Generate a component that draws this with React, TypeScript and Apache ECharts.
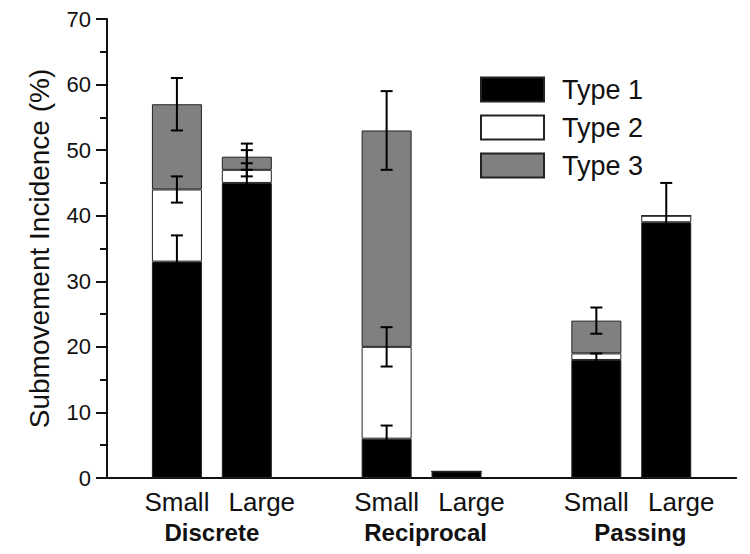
import React, { useEffect, useRef } from "react";
import * as echarts from "echarts";

const groups = ["Discrete", "Reciprocal", "Passing"];
const sizes = ["Small", "Large"];
const seriesNames = ["Type 1", "Type 2", "Type 3"];
// segment heights (stacked), order: Discrete S/L, Reciprocal S/L, Passing S/L
const type1 = [33, 45, 6, 1, 18, 39];
const type2 = [11, 2, 14, 0, 1, 1];
const type3 = [13, 2, 33, 0, 5, 0];
// error half-lengths at the top of each segment
const err1 = [4, 5, 2, 0, 1, 0];
const err2 = [2, 1, 3, 0, 0, 5];
const err3 = [4, 2, 6, 0, 2, 0];
const yTicks = { min: 0, max: 70, interval: 10 };

const colors = ["#000000", "#ffffff", "#808080"];
const FONT = "Liberation Sans, Arial, Helvetica, sans-serif";

export default function App() {
  const ref = useRef<HTMLDivElement>(null);
  useEffect(() => {
    if (!ref.current) return;
    const chart = echarts.init(ref.current, undefined, { renderer: "svg" });
    // category slots: gap, S, L, gap, S, L, gap, S, L, gap
    const cats: string[] = [""];
    const slotOf: number[] = [];
    groups.forEach((_, g) => {
      sizes.forEach((s) => {
        slotOf.push(cats.length);
        cats.push(s);
      });
      cats.push(" ".repeat(g + 1));
    });
    const nSlots = cats.length;
    const fill = (vals: number[]) => {
      const arr: (number | null)[] = new Array(nSlots).fill(null);
      vals.forEach((v, i) => (arr[slotOf[i]] = v));
      return arr;
    };
    const segs = [type1, type2, type3];
    const errs = [err1, err2, err3];
    const errData: number[][] = [];
    slotOf.forEach((slot, i) => {
      let top = 0;
      segs.forEach((seg, k) => {
        top += seg[i];
        if (errs[k][i] > 0) errData.push([slot, top, errs[k][i]]);
      });
    });
    const groupPos = groups.map((_, g) => (slotOf[g * 2] + slotOf[g * 2 + 1]) / 2);
    const groupMap: Record<string, number> = {};
    groupPos.forEach((p, g) => (groupMap[String(p)] = g));
    const groupShift = [0, 8, 18];
    const groupRich: Record<string, any> = {};
    groupShift.forEach((s, g) => {
      groupRich["g" + g] = {
        fontSize: 24,
        fontWeight: "bold",
        color: "#111",
        fontFamily: FONT,
        padding: [0, 0, 0, s],
      };
    });

    chart.setOption({
      animation: false,
      textStyle: { fontFamily: FONT },
      grid: { left: 107, right: 10, top: 19, bottom: 76, containLabel: false },
      legend: {
        orient: "vertical",
        left: 480,
        top: 76,
        padding: 0,
        icon: "rect",
        itemWidth: 63,
        itemHeight: 24,
        itemGap: 11,
        data: seriesNames,
        textStyle: {
          fontSize: 27,
          lineHeight: 24,
          color: "#111",
          fontFamily: FONT,
          padding: [0, 0, 0, 13],
        },
      },
      xAxis: [
        {
          type: "category",
          data: cats,
          boundaryGap: false,
          position: "bottom",
          axisLine: { show: true, lineStyle: { color: "#111", width: 2 } },
          axisTick: { show: false },
          splitLine: { show: false },
          axisLabel: {
            interval: 0,
            fontSize: 26,
            color: "#111",
            margin: 11,
            fontFamily: FONT,
            formatter: (v: string) => (v === sizes[1] ? `{l|${v}}` : v),
            rich: {
              l: { fontSize: 26, color: "#111", fontFamily: FONT, padding: [0, 0, 0, 30] },
            },
          },
        },
        {
          type: "value",
          min: 0,
          max: nSlots - 1,
          position: "bottom",
          axisLine: { show: false },
          axisTick: { show: false },
          splitLine: { show: false },
          axisLabel: {
            customValues: groupPos,
            formatter: (v: number) => {
              const g = groupMap[String(v)];
              return g === undefined ? "" : `{g${g}|${groups[g]}}`;
            },
            rich: groupRich,
            fontSize: 24,
            fontWeight: "bold",
            color: "#111",
            margin: 42,
            fontFamily: FONT,
          },
        },
      ],
      yAxis: {
        type: "value",
        min: yTicks.min,
        max: yTicks.max,
        interval: yTicks.interval,
        name: "Submovement Incidence (%)",
        nameLocation: "middle",
        nameGap: 54,
        nameTextStyle: { fontSize: 28, color: "#111", fontFamily: FONT },
        axisLine: { show: true, lineStyle: { color: "#111", width: 2 } },
        axisTick: { show: true, inside: false, length: 11, lineStyle: { color: "#111", width: 2 } },
        minorTick: { show: true, splitNumber: 2, length: 7, lineStyle: { color: "#111", width: 2 } },
        splitLine: { show: false },
        axisLabel: { fontSize: 22, color: "#111", margin: 16, fontFamily: FONT },
      },
      series: [
        ...segs.map((seg, k) => ({
          name: seriesNames[k],
          type: "bar",
          stack: "total",
          barWidth: 50,
          xAxisIndex: 0,
          itemStyle: { color: colors[k], borderColor: "#222", borderWidth: 1 },
          data: fill(seg),
        })),
        {
          type: "custom",
          xAxisIndex: 0,
          z: 10,
          data: errData,
          renderItem: (params: any, api: any) => {
            const x = api.value(0);
            const top = api.value(1);
            const e = api.value(2);
            const hi = api.coord([x, top + e]);
            const lo = api.coord([x, top - e]);
            const w = 6;
            const style = { stroke: "#000", lineWidth: 2 };
            return {
              type: "group",
              children: [
                { type: "line", shape: { x1: hi[0], y1: hi[1], x2: lo[0], y2: lo[1] }, style },
                { type: "line", shape: { x1: hi[0] - w, y1: hi[1], x2: hi[0] + w, y2: hi[1] }, style },
                { type: "line", shape: { x1: lo[0] - w, y1: lo[1], x2: lo[0] + w, y2: lo[1] }, style },
              ],
            };
          },
        },
      ],
    });
    return () => chart.dispose();
  }, []);
  return <div ref={ref} style={{ width: 750, height: 554, position: "absolute", left: 0, top: 0 }} />;
}
